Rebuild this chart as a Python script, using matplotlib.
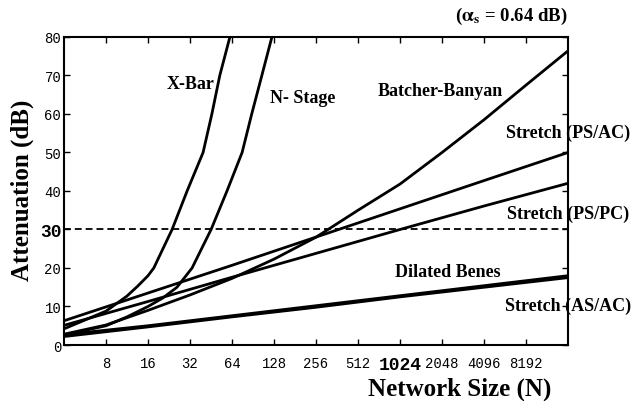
import matplotlib.pyplot as plt

# network size N and attenuation (dB)
xbar_n = [4, 8, 11.3, 13.5, 16, 17.6, 23.8, 30.5, 39.7, 45.9, 52.3, 61.8]
xbar_db = [4.2, 8.8, 12.7, 15.3, 18.0, 20, 30, 40, 50, 60, 70, 80]

nstage_n = [4, 8, 11.3, 16, 20.4, 25.8, 33.1, 45.3, 58.9, 75.6, 88.6, 104.7, 123.6]
nstage_db = [2.6, 5.0, 7.3, 10, 12.2, 15, 20, 30, 40, 50, 60, 70, 80]

batcher_n = [4, 8, 16, 32, 64, 128, 256, 512, 1024, 2048, 4096, 8192, 16384]
batcher_db = [2.8, 5.2, 9.0, 13.0, 17.3, 22.3, 28.0, 35.0, 41.8, 50.0, 58.5, 67.5, 76.4]

ps_ac_n = [4, 64, 512, 4096, 16384]
ps_ac_db = [6.3, 20.7, 31.7, 42.7, 50.0]

ps_pc_n = [4, 16, 64, 256, 1024, 4096, 16384]
ps_pc_db = [5.1, 11.3, 17.6, 23.8, 30.0, 36.1, 42.0]

dilated_n = [4, 16, 64, 256, 1024, 4096, 16384]
dilated_db = [2.7, 5.0, 7.6, 10.2, 12.8, 15.4, 18.0]

as_ac_n = [4, 16, 64, 256, 1024, 4096, 16384]
as_ac_db = [2.2, 4.7, 7.3, 9.8, 12.5, 15.0, 17.5]

xticks = [8, 16, 32, 64, 128, 256, 512, 1024, 2048, 4096, 8192]
yticks = [0, 10, 20, 30, 40, 50, 60, 70, 80]
threshold = 30

serif = 'Liberation Serif'
mono = 'Liberation Mono'
plt.rcParams['mathtext.fontset'] = 'stix'

fig = plt.figure(figsize=(6.37, 4.02), dpi=100)
ax = fig.add_axes([0.1005, 0.1393, 0.7912, 0.7662])

lw = 2.0
for n, db in [(xbar_n, xbar_db), (nstage_n, nstage_db), (batcher_n, batcher_db),
              (ps_ac_n, ps_ac_db), (ps_pc_n, ps_pc_db),
              (dilated_n, dilated_db), (as_ac_n, as_ac_db)]:
    ax.plot(n, db, color='black', lw=lw, solid_capstyle='butt',
            solid_joinstyle='round')

ax.axhline(threshold, color='black', lw=1.3, ls=(0, (3.8, 2.2)))

ax.set_xscale('log', base=2)
ax.set_xlim(4, 16384)
ax.set_ylim(0, 80)
ax.set_xticks(xticks)
ax.set_xticklabels([str(t) for t in xticks], fontfamily=mono, fontsize=10)
ax.set_yticks(yticks)
ax.set_yticklabels([str(t) for t in yticks], fontfamily=mono, fontsize=10)
ax.minorticks_off()
ax.tick_params(direction='in', top=True, right=True, length=4, width=1)
ax.tick_params(axis='x', pad=8)
ax.tick_params(axis='y', pad=2)

for lab in ax.get_xticklabels():
    if lab.get_text() == '1024':
        lab.set_fontweight('bold')
        lab.set_fontsize(13)
for lab in ax.get_yticklabels():
    if lab.get_text() == '30':
        lab.set_fontweight('bold')
        lab.set_fontsize(13)

for s in ax.spines.values():
    s.set_linewidth(1.5)

lab_kw = dict(fontfamily=serif, fontweight='bold', fontsize=13,
              ha='center', va='center', color='black')
ax.text(32.4, 68, 'X-Bar', **lab_kw)
ax.text(206, 64.4, 'N- Stage', **lab_kw)
ax.text(1980, 66, 'Batcher-Banyan', **lab_kw)
ax.text(16384, 55.3, 'Stretch (PS/AC)', **lab_kw)
ax.text(16384, 34.3, 'Stretch (PS/PC)', **lab_kw)
ax.text(2260, 19.2, 'Dilated Benes', **lab_kw)
ax.text(16384, 10.4, 'Stretch (AS/AC)', **lab_kw)

fig.text(568 / 637, 1 - 16 / 402, r'($\mathbf{\alpha_s}$ = 0.64 dB)',
         fontfamily=serif, fontweight='bold', fontsize=13.5, ha='right', va='center')
fig.text(460 / 637, 1 - 389 / 402, 'Network Size (N)', fontfamily=serif,
         fontweight='bold', fontsize=18, ha='center', va='center')
fig.text(22 / 637, 1 - 190 / 402, 'Attenuation (dB)', fontfamily=serif,
         fontweight='bold', fontsize=18, ha='center', va='center', rotation=90)

fig.savefig('out.png', dpi=100)
